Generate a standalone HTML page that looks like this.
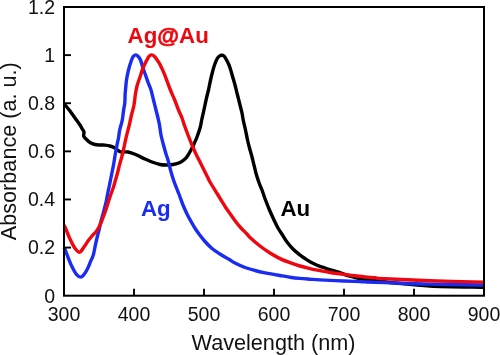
<!DOCTYPE html>
<html><head><meta charset="utf-8"><title>UV-vis</title>
<style>
html,body{margin:0;padding:0;background:#fff;}
body{width:500px;height:355px;overflow:hidden;}
svg{display:block;will-change:transform;font-family:"Liberation Sans",sans-serif;}
</style></head><body>
<svg width="500" height="355" viewBox="0 0 500 355">
<rect width="500" height="355" fill="#fff"/>
<g fill="none" stroke-width="3.4" stroke-linejoin="round" stroke-linecap="butt">
<path d="M64.00,103.50C65.00,104.75 68.17,108.58 70.00,111.00C71.83,113.42 73.33,115.67 75.00,118.00C76.67,120.33 78.78,123.17 80.00,125.00C81.22,126.83 81.63,127.83 82.30,129.00C82.97,130.17 83.77,130.83 84.00,132.00C84.23,133.17 83.37,134.83 83.70,136.00C84.03,137.17 84.95,137.92 86.00,139.00C87.05,140.08 88.50,141.58 90.00,142.50C91.50,143.42 93.33,144.08 95.00,144.50C96.67,144.92 98.33,144.90 100.00,145.00C101.67,145.10 103.33,144.93 105.00,145.10C106.67,145.27 108.33,145.52 110.00,146.00C111.67,146.48 113.67,147.28 115.00,148.00C116.33,148.72 117.08,149.67 118.00,150.30C118.92,150.93 119.50,151.52 120.50,151.80C121.50,152.08 122.75,151.97 124.00,152.00C125.25,152.03 126.17,151.62 128.00,152.00C129.83,152.38 132.17,153.13 135.00,154.30C137.83,155.47 142.17,157.72 145.00,159.00C147.83,160.28 149.50,161.08 152.00,162.00C154.50,162.92 157.67,164.00 160.00,164.50C162.33,165.00 163.83,165.00 166.00,165.00C168.17,165.00 170.67,164.92 173.00,164.50C175.33,164.08 178.00,163.42 180.00,162.50C182.00,161.58 183.75,160.08 185.00,159.00C186.25,157.92 186.50,157.50 187.50,156.00C188.50,154.50 189.92,152.00 191.00,150.00C192.08,148.00 193.00,146.17 194.00,144.00C195.00,141.83 195.95,139.83 197.00,137.00C198.05,134.17 199.52,129.83 200.30,127.00C201.08,124.17 201.17,122.50 201.70,120.00C202.23,117.50 202.95,114.50 203.50,112.00C204.05,109.50 204.50,107.33 205.00,105.00C205.50,102.67 205.92,100.50 206.50,98.00C207.08,95.50 208.00,92.17 208.50,90.00C209.00,87.83 209.08,87.00 209.50,85.00C209.92,83.00 210.50,80.17 211.00,78.00C211.50,75.83 211.92,74.17 212.50,72.00C213.08,69.83 213.75,67.17 214.50,65.00C215.25,62.83 216.17,60.50 217.00,59.00C217.83,57.50 218.70,56.63 219.50,56.00C220.30,55.37 221.05,55.20 221.80,55.20C222.55,55.20 223.30,55.37 224.00,56.00C224.70,56.63 225.17,57.50 226.00,59.00C226.83,60.50 228.17,63.00 229.00,65.00C229.83,67.00 230.33,68.83 231.00,71.00C231.67,73.17 232.33,75.67 233.00,78.00C233.67,80.33 234.25,82.17 235.00,85.00C235.75,87.83 236.67,91.67 237.50,95.00C238.33,98.33 239.25,102.00 240.00,105.00C240.75,108.00 241.47,110.50 242.00,113.00C242.53,115.50 242.62,117.17 243.20,120.00C243.78,122.83 244.78,126.67 245.50,130.00C246.22,133.33 246.83,137.00 247.50,140.00C248.17,143.00 248.83,145.50 249.50,148.00C250.17,150.50 250.75,152.17 251.50,155.00C252.25,157.83 253.17,161.67 254.00,165.00C254.83,168.33 255.58,171.83 256.50,175.00C257.42,178.17 258.58,181.50 259.50,184.00C260.42,186.50 261.00,187.33 262.00,190.00C263.00,192.67 264.25,196.67 265.50,200.00C266.75,203.33 268.08,206.67 269.50,210.00C270.92,213.33 272.58,217.00 274.00,220.00C275.42,223.00 276.58,225.50 278.00,228.00C279.42,230.50 281.00,232.67 282.50,235.00C284.00,237.33 285.25,239.67 287.00,242.00C288.75,244.33 290.92,246.88 293.00,249.00C295.08,251.12 297.50,253.10 299.50,254.70C301.50,256.30 303.25,257.42 305.00,258.60C306.75,259.78 308.33,260.87 310.00,261.80C311.67,262.73 313.33,263.45 315.00,264.20C316.67,264.95 318.33,265.67 320.00,266.30C321.67,266.93 323.33,267.43 325.00,268.00C326.67,268.57 328.33,269.17 330.00,269.70C331.67,270.23 333.33,270.70 335.00,271.20C336.67,271.70 338.33,272.13 340.00,272.70C341.67,273.27 343.33,274.02 345.00,274.60C346.67,275.18 348.33,275.72 350.00,276.20C351.67,276.68 352.50,276.98 355.00,277.50C357.50,278.02 361.67,278.78 365.00,279.30C368.33,279.82 371.67,280.18 375.00,280.60C378.33,281.02 381.67,281.40 385.00,281.80C388.33,282.20 387.50,282.28 395.00,283.00C402.50,283.72 415.33,285.38 430.00,286.10C444.67,286.82 474.17,287.10 483.00,287.30" stroke="#000"/>
<path d="M64.00,247.50C64.17,247.83 64.25,247.67 65.00,249.50C65.75,251.33 67.27,255.50 68.50,258.50C69.73,261.50 71.00,264.77 72.40,267.50C73.80,270.23 75.50,273.30 76.90,274.90C78.30,276.50 79.67,277.10 80.80,277.10C81.93,277.10 82.67,276.12 83.70,274.90C84.73,273.68 85.88,271.97 87.00,269.80C88.12,267.63 89.35,264.37 90.40,261.90C91.45,259.43 92.53,257.48 93.30,255.00C94.07,252.52 94.47,249.50 95.00,247.00C95.53,244.50 96.00,242.17 96.50,240.00C97.00,237.83 97.50,236.00 98.00,234.00C98.50,232.00 99.03,230.00 99.50,228.00C99.97,226.00 100.27,224.17 100.80,222.00C101.33,219.83 102.07,217.33 102.70,215.00C103.33,212.67 103.97,210.50 104.60,208.00C105.23,205.50 105.93,202.67 106.50,200.00C107.07,197.33 107.50,194.50 108.00,192.00C108.50,189.50 108.92,187.83 109.50,185.00C110.08,182.17 110.83,178.33 111.50,175.00C112.17,171.67 113.00,167.67 113.50,165.00C114.00,162.33 114.17,161.00 114.50,159.00C114.83,157.00 115.08,155.33 115.50,153.00C115.92,150.67 116.50,147.50 117.00,145.00C117.50,142.50 118.05,140.50 118.50,138.00C118.95,135.50 119.07,133.00 119.70,130.00C120.33,127.00 121.65,123.33 122.30,120.00C122.95,116.67 123.18,112.83 123.60,110.00C124.02,107.17 124.55,105.50 124.80,103.00C125.05,100.50 124.98,97.17 125.10,95.00C125.22,92.83 125.27,92.50 125.50,90.00C125.73,87.50 126.00,83.33 126.50,80.00C127.00,76.67 127.72,73.17 128.50,70.00C129.28,66.83 130.42,63.25 131.20,61.00C131.98,58.75 132.47,57.52 133.20,56.50C133.93,55.48 134.80,54.95 135.60,54.90C136.40,54.85 137.18,55.35 138.00,56.20C138.82,57.05 139.67,58.03 140.50,60.00C141.33,61.97 142.17,65.50 143.00,68.00C143.83,70.50 144.62,72.50 145.50,75.00C146.38,77.50 147.38,80.50 148.30,83.00C149.22,85.50 150.13,87.17 151.00,90.00C151.87,92.83 152.67,96.67 153.50,100.00C154.33,103.33 155.25,107.00 156.00,110.00C156.75,113.00 157.42,115.50 158.00,118.00C158.58,120.50 159.00,122.17 159.50,125.00C160.00,127.83 160.33,131.67 161.00,135.00C161.67,138.33 162.67,141.83 163.50,145.00C164.33,148.17 165.25,151.50 166.00,154.00C166.75,156.50 167.25,157.33 168.00,160.00C168.75,162.67 169.58,166.67 170.50,170.00C171.42,173.33 172.50,177.00 173.50,180.00C174.50,183.00 175.53,185.50 176.50,188.00C177.47,190.50 178.22,192.17 179.30,195.00C180.38,197.83 181.63,201.67 183.00,205.00C184.37,208.33 185.92,211.83 187.50,215.00C189.08,218.17 191.33,221.92 192.50,224.00C193.67,226.08 193.42,225.83 194.50,227.50C195.58,229.17 197.25,231.67 199.00,234.00C200.75,236.33 202.83,239.08 205.00,241.50C207.17,243.92 209.50,246.42 212.00,248.50C214.50,250.58 217.17,252.20 220.00,254.00C222.83,255.80 226.50,257.80 229.00,259.30C231.50,260.80 232.33,261.63 235.00,263.00C237.67,264.37 241.67,266.25 245.00,267.50C248.33,268.75 251.67,269.62 255.00,270.50C258.33,271.38 261.67,272.12 265.00,272.80C268.33,273.48 272.50,274.15 275.00,274.60C277.50,275.05 277.50,275.07 280.00,275.50C282.50,275.93 286.67,276.72 290.00,277.20C293.33,277.68 296.67,278.07 300.00,278.40C303.33,278.73 306.67,278.95 310.00,279.20C313.33,279.45 315.83,279.67 320.00,279.90C324.17,280.13 329.17,280.35 335.00,280.60C340.83,280.85 350.00,281.18 355.00,281.40C360.00,281.62 360.00,281.70 365.00,281.90C370.00,282.10 374.17,282.23 385.00,282.60C395.83,282.97 413.67,283.70 430.00,284.10C446.33,284.50 474.17,284.85 483.00,285.00" stroke="#1a2cf2"/>
<path d="M64.00,225.60C64.17,225.83 64.00,224.77 65.00,227.00C66.00,229.23 68.37,235.50 70.00,239.00C71.63,242.50 73.20,245.80 74.80,248.00C76.40,250.20 78.07,252.37 79.60,252.20C81.13,252.03 82.60,248.87 84.00,247.00C85.40,245.13 86.67,242.83 88.00,241.00C89.33,239.17 90.67,237.55 92.00,236.00C93.33,234.45 94.83,233.20 96.00,231.70C97.17,230.20 98.08,228.70 99.00,227.00C99.92,225.30 100.67,223.50 101.50,221.50C102.33,219.50 103.17,217.25 104.00,215.00C104.83,212.75 105.67,210.50 106.50,208.00C107.33,205.50 108.25,202.33 109.00,200.00C109.75,197.67 110.25,196.17 111.00,194.00C111.75,191.83 112.75,189.33 113.50,187.00C114.25,184.67 114.83,182.33 115.50,180.00C116.17,177.67 116.83,175.50 117.50,173.00C118.17,170.50 118.83,167.50 119.50,165.00C120.17,162.50 120.92,160.17 121.50,158.00C122.08,155.83 122.50,154.17 123.00,152.00C123.50,149.83 124.00,147.33 124.50,145.00C125.00,142.67 125.42,140.50 126.00,138.00C126.58,135.50 127.45,132.17 128.00,130.00C128.55,127.83 128.72,127.50 129.30,125.00C129.88,122.50 130.72,118.33 131.50,115.00C132.28,111.67 133.37,108.33 134.00,105.00C134.63,101.67 134.80,98.17 135.30,95.00C135.80,91.83 136.22,89.00 137.00,86.00C137.78,83.00 139.00,80.00 140.00,77.00C141.00,74.00 141.90,70.75 143.00,68.00C144.10,65.25 145.60,62.45 146.60,60.50C147.60,58.55 148.17,57.23 149.00,56.30C149.83,55.37 150.68,54.87 151.60,54.90C152.52,54.93 153.52,55.57 154.50,56.50C155.48,57.43 156.58,59.17 157.50,60.50C158.42,61.83 158.88,62.30 160.00,64.50C161.12,66.70 162.53,69.62 164.20,73.70C165.87,77.78 168.25,84.62 170.00,89.00C171.75,93.38 173.28,96.50 174.70,100.00C176.12,103.50 177.28,107.00 178.50,110.00C179.72,113.00 181.03,115.50 182.00,118.00C182.97,120.50 183.30,122.17 184.30,125.00C185.30,127.83 186.72,131.67 188.00,135.00C189.28,138.33 190.75,142.00 192.00,145.00C193.25,148.00 194.33,150.50 195.50,153.00C196.67,155.50 197.58,157.17 199.00,160.00C200.42,162.83 202.50,167.00 204.00,170.00C205.50,173.00 207.00,176.00 208.00,178.00C209.00,180.00 208.33,179.17 210.00,182.00C211.67,184.83 216.17,192.00 218.00,195.00C219.83,198.00 219.67,197.83 221.00,200.00C222.33,202.17 224.33,205.50 226.00,208.00C227.67,210.50 229.33,212.67 231.00,215.00C232.67,217.33 234.33,219.83 236.00,222.00C237.67,224.17 239.17,226.00 241.00,228.00C242.83,230.00 245.50,232.42 247.00,234.00C248.50,235.58 247.83,235.50 250.00,237.50C252.17,239.50 256.67,243.42 260.00,246.00C263.33,248.58 266.67,250.90 270.00,253.00C273.33,255.10 276.67,256.98 280.00,258.60C283.33,260.22 286.67,261.47 290.00,262.70C293.33,263.93 296.67,265.02 300.00,266.00C303.33,266.98 306.67,267.83 310.00,268.60C313.33,269.37 316.67,269.95 320.00,270.60C323.33,271.25 326.67,271.97 330.00,272.50C333.33,273.03 337.50,273.47 340.00,273.80C342.50,274.13 342.50,274.17 345.00,274.50C347.50,274.83 351.67,275.38 355.00,275.80C358.33,276.22 361.67,276.67 365.00,277.00C368.33,277.33 371.67,277.50 375.00,277.80C378.33,278.10 375.83,278.32 385.00,278.80C394.17,279.28 413.67,280.15 430.00,280.70C446.33,281.25 474.17,281.87 483.00,282.10" stroke="#f0060e"/>
</g>
<rect x="64" y="7" width="420" height="288.7" fill="none" stroke="#000" stroke-width="2"/>
<g stroke="#000" stroke-width="1.9"><line x1="134.00" y1="295.7" x2="134.00" y2="288.7"/><line x1="204.00" y1="295.7" x2="204.00" y2="288.7"/><line x1="274.00" y1="295.7" x2="274.00" y2="288.7"/><line x1="344.00" y1="295.7" x2="344.00" y2="288.7"/><line x1="414.00" y1="295.7" x2="414.00" y2="288.7"/><line x1="64" y1="247.58" x2="71" y2="247.58"/><line x1="64" y1="199.47" x2="71" y2="199.47"/><line x1="64" y1="151.35" x2="71" y2="151.35"/><line x1="64" y1="103.23" x2="71" y2="103.23"/><line x1="64" y1="55.12" x2="71" y2="55.12"/></g>
<g font-size="19.5" fill="#111"><text x="64.00" y="320.6" text-anchor="middle">300</text><text x="134.00" y="320.6" text-anchor="middle">400</text><text x="204.00" y="320.6" text-anchor="middle">500</text><text x="274.00" y="320.6" text-anchor="middle">600</text><text x="344.00" y="320.6" text-anchor="middle">700</text><text x="414.00" y="320.6" text-anchor="middle">800</text><text x="484.00" y="320.6" text-anchor="middle">900</text><text x="55" y="302.60" text-anchor="end">0</text><text x="55" y="254.48" text-anchor="end">0.2</text><text x="55" y="206.37" text-anchor="end">0.4</text><text x="55" y="158.25" text-anchor="end">0.6</text><text x="55" y="110.13" text-anchor="end">0.8</text><text x="55" y="62.02" text-anchor="end">1</text><text x="55" y="13.90" text-anchor="end">1.2</text></g>
<text x="273.5" y="349.7" font-size="21.65" text-anchor="middle" fill="#111">Wavelength (nm)</text>
<text transform="translate(15.7,151.2) rotate(-90)" font-size="21.65" text-anchor="middle" fill="#111">Absorbance (a. u.)</text>
<g font-size="22.3" font-weight="bold">
<text x="127.6" y="42.8" fill="#f0060e">Ag<tspan stroke="#f0060e" stroke-width="0.7">@</tspan>Au</text>
<text x="140.9" y="216.2" fill="#1a2cf2">Ag</text>
<text x="280.5" y="216.2" fill="#000">Au</text>
</g>
</svg>
</body></html>
